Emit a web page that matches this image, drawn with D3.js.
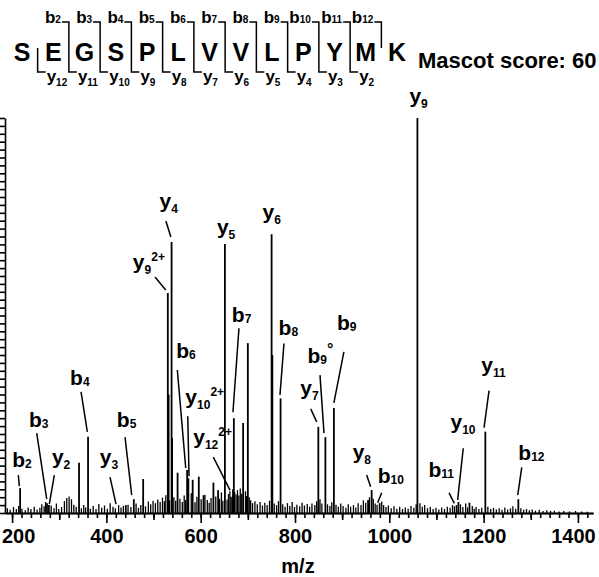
<!DOCTYPE html>
<html>
<head>
<meta charset="utf-8">
<script src="https://cdn.jsdelivr.net/npm/d3@7"></script>
<style>
  body { margin: 0; background: #fff; }
  text { font-family: "Liberation Sans", Arial, sans-serif; font-weight: bold; fill: #000; }
</style>
</head>
<body>
<svg></svg>
<script>

// ----- Data ----- //
var residues = ['S', 'E', 'G', 'S', 'P', 'L', 'V', 'V', 'L', 'P', 'Y', 'M', 'K'];
var scoreText = 'Mascot score: 60';
var xTicks = [200, 400, 600, 800, 1000, 1200, 1400];

// assigned fragment ions
var ionType   = ['b', 'b', 'y', 'b', 'y', 'b', 'y', 'y', 'b', 'y', 'y', 'y', 'b', 'y', 'b', 'y', 'b', 'b', 'y', 'b', 'y', 'b', 'y', 'y', 'b'];
var ionNum    = ['2', '3', '2', '4', '3', '5', '9', '4', '6', '10', '5', '12', '7', '6', '8', '7', '9', '9', '8', '10', '9', '11', '10', '11', '12'];
var ionSup    = ['', '', '', '', '', '', '2+', '', '', '2+', '', '2+', '', '', '', '', '°', '', '', '', '', '', '', '', ''];
var ionMz     = [217.08, 274.10, 278.15, 361.13, 441.22, 458.19, 530.32, 538.27, 571.27, 573.83, 651.36, 666.86, 670.34,
                 750.42, 769.41, 849.49, 864.48, 882.49, 962.58, 979.55, 1059.63, 1142.61, 1146.66, 1203.68, 1273.65];
var ionInt    = [6.3, 2.5, 2.0, 19.3, 2.0, 3.5, 55.7, 68.6, 10.9, 8.8, 68.1, 4.0, 24.0,
                 70.6, 29.0, 21.8, 19.2, 26.6, 5.8, 2.5, 100, 2.0, 2.8, 20.6, 3.5];

// unassigned peaks
var otherMz  = [342, 478, 532, 539.3, 551, 583, 596, 606, 627, 637, 690, 700, 752, 955, 1170];
var otherInt = [12.7, 8.6, 30, 19, 10.2, 8.4, 9.2, 4.5, 7.7, 5.8, 22.8, 43, 40, 3.3, 2.6];

// baseline noise [m/z, %]
var noisePeaks = [
  [190, 1.2], [196, 0.8], [203, 1.5], [209, 1.0], [214, 1.8], [221, 1.1], [228, 0.7], [234, 1.4], [240, 1.0], [247, 1.6],
  [253, 0.9], [259, 1.3], [263, 2.2], [268, 1.7], [271, 2.8], [283, 1.9], [289, 1.2], [294, 2.4], [299, 1.0], [305, 1.5],
  [311, 3.0], [316, 3.8], [321, 4.2], [326, 3.5], [331, 2.1], [336, 1.6], [347, 1.2], [352, 2.0], [356, 1.4], [366, 1.1],
  [372, 1.8], [378, 1.0], [384, 2.3], [390, 1.3], [396, 1.9], [402, 1.1], [408, 2.5], [414, 1.6], [419, 1.2], [426, 2.0],
  [431, 1.4], [436, 1.8], [446, 2.1], [452, 1.5], [463, 2.4], [468, 1.3], [473, 2.0], [483, 1.7], [489, 2.9], [494, 2.2],
  [499, 3.1], [504, 2.5], [509, 3.4], [514, 2.8], [519, 3.9], [523, 3.0], [526, 4.5], [534, 3.2], [543, 4.0], [547, 3.1],
  [556, 3.6], [561, 2.8], [565, 4.4], [568, 3.3], [580, 5.0], [588, 2.7], [592, 4.1], [601, 3.5], [609, 4.6], [614, 3.3],
  [618, 2.6], [622, 3.8], [632, 4.2], [640, 3.6], [644, 5.2], [647, 3.1], [656, 3.4], [659, 4.8], [662, 5.5], [664, 4.1],
  [668, 6.0], [672, 5.3], [675, 4.7], [678, 5.8], [681, 4.4], [684, 6.2], [687, 4.9], [695, 5.5], [697, 4.3], [703, 4.0],
  [706, 3.2], [710, 2.5], [715, 3.0], [720, 2.2], [726, 2.8], [731, 1.9], [736, 2.6], [741, 2.0], [746, 3.1], [756, 2.4],
  [761, 2.0], [765, 3.0], [774, 2.2], [779, 1.6], [784, 2.5], [789, 1.8], [794, 2.8], [799, 1.5], [804, 2.1], [810, 1.7],
  [815, 2.6], [820, 1.9], [826, 2.3], [831, 1.6], [836, 2.4], [842, 2.0], [846, 3.0], [853, 3.5], [857, 2.4], [869, 2.2],
  [874, 1.8], [878, 2.7], [887, 2.1], [892, 1.6], [897, 2.4], [902, 1.8], [908, 1.3], [913, 2.2], [918, 1.6], [924, 2.0],
  [929, 1.4], [934, 2.5], [940, 2.0], [945, 3.2], [950, 2.6], [958, 4.0], [966, 3.6], [970, 2.4], [974, 2.1], [984, 2.9],
  [988, 2.0], [993, 1.5], [998, 1.9], [1004, 1.2], [1010, 1.7], [1016, 1.1], [1022, 1.6], [1028, 1.0], [1034, 1.4], [1040, 1.1],
  [1046, 1.8], [1052, 1.3], [1057, 2.2], [1065, 2.5], [1070, 1.6], [1075, 2.0], [1081, 1.2], [1087, 1.5], [1093, 1.0], [1099, 1.3],
  [1105, 0.9], [1111, 1.4], [1117, 1.0], [1123, 1.6], [1129, 1.3], [1134, 2.0], [1138, 1.7], [1151, 2.2], [1156, 1.5], [1162, 2.4],
  [1166, 1.4], [1176, 1.8], [1180, 1.1], [1184, 1.5], [1190, 1.0], [1196, 1.3], [1209, 1.6], [1215, 1.0], [1221, 1.3], [1227, 0.9],
  [1233, 1.2], [1239, 0.8], [1245, 1.4], [1251, 0.9], [1257, 1.2], [1262, 1.7], [1268, 1.1], [1279, 1.2], [1285, 0.8], [1291, 1.0],
  [1297, 0.7], [1303, 0.9], [1310, 0.6], [1318, 0.8], [1326, 0.5], [1334, 0.7], [1342, 0.5], [1350, 0.6], [1360, 0.4], [1370, 0.5],
  [1382, 0.4], [1395, 0.5], [1408, 0.4], [1420, 0.3]
];

// ----- Layout ----- //
var svgWidth = 599;
var svgHeight = 577;
var plot = {left: 5, right: 593, top: 118, bottom: 513};

// label placement relative to the peak top: text origin (dx, dy) and leader [x1, y1, x2, y2]
var labelLayout = {
  'b2':   {dx: -8,  dy: -21,  lead: [-1.8, -13, -0.8, -2]},
  'b3':   {dx: -18, dy: -76,  lead: [-10.3, -70, -0.3, -4]},
  'y2':   {dx: 3,   dy: -41,  lead: [5.4, -30, 0.4, -1]},
  'b4':   {dx: -18, dy: -52,  lead: [-7, -45, -0.7, -5]},
  'y3':   {dx: -26, dy: -41,  lead: [-15.8, -28, -9.8, -1]},
  'b5':   {dx: -17, dy: -72,  lead: [-8.8, -62, -2.1, -4]},
  'y9°2+':{dx: -35, dy: -24,  lead: [-12.8, -16, -2.1, -3]},
  'y4':   {dx: -12, dy: -34,  lead: [-5.7, -21, -0.7, -5]},
  'b6':   {dx: -11, dy: -112, lead: [-9.8, -100, -1.4, -2]},
  'y10°2+':{dx: -3, dy: -74,  lead: [-0.6, -62, 0.7, -2]},
  'y5':   {dx: -8,  dy: -10,  lead: null},
  'y12°2+':{dx: -39, dy: -53, lead: [-18.9, -40, -2.2, -7]},
  'b7':   {dx: -2,  dy: -96,  lead: [5.1, -90, -0.9, -6]},
  'y6':   {dx: -9,  dy: -15,  lead: null},
  'b8':   {dx: -2,  dy: -63,  lead: [3.4, -55, -0.6, -3.5]},
  'y7':   {dx: -18, dy: -32,  lead: [-7.6, -18, -1.6, -5]},
  'b9°°': {dx: -18, dy: -74,  lead: [-5.4, -62, -1.4, -4]},
  'b9':   {dx: 3,   dy: -78,  lead: [10, -56, 0, -5]},
  'y8':   {dx: -19, dy: -31,  lead: [-5, -15, -1, -3.3]},
  'b10':  {dx: -2,  dy: -20,  lead: [2, -10.3, -2, -0.3]},
  'y9':   {dx: -8,  dy: -15,  lead: null},
  'b11':  {dx: -28, dy: -28,  lead: [-7.5, -12.3, -2.2, -1.7]},
  'y10':  {dx: -8,  dy: -73,  lead: [4.8, -53.7, -0.8, -2]},
  'y11':  {dx: -4,  dy: -60,  lead: [3.7, -41, -1.3, -4]},
  'b12':  {dx: 0,   dy: -39,  lead: [3.4, -31.7, -0.6, -4]}
};

// ----- SVG settings ----- //
var svg = d3.select('svg')
  .attr('width', svgWidth)
  .attr('height', svgHeight);

var scale = {};
scale.x = d3.scaleLinear().domain([185, 1432]).range([plot.left, plot.right]);
scale.y = d3.scaleLinear().domain([0, 100]).range([plot.bottom, plot.top]);

drawSequence();
drawAxis();
drawPeaks();
drawLabels();

// ==================== Helper functions ==================== //

function drawSequence() {
  var seq = d3.scalePoint().domain(d3.range(residues.length)).range([22, 397]);
  var topY = 22, botY = 72, midY = 48;
  var g = svg.append('g').attr('class', 'sequence');

  g.selectAll('text.res')
    .data(residues)
    .enter()
    .append('text')
    .attr('class', 'res')
    .attr('x', function(d, i) { return seq(i); })
    .attr('y', 61)
    .attr('text-anchor', 'middle')
    .style('font-size', '25px')
    .text(function(d) { return d; });

  var n = residues.length;
  for (var k = 1; k < n; k++) {
    var cx = (seq(k - 1) + seq(k)) / 2;
    var hasB = k >= 2;
    var hasY = k <= n - 2;
    var y1 = hasB ? topY : midY;
    var y2 = hasY ? botY : midY;
    var path = 'M' + cx + ',' + y1 + 'L' + cx + ',' + y2;
    if (hasB) path = 'M' + (cx - 7) + ',' + topY + 'L' + cx + ',' + topY + 'L' + cx + ',' + y2;
    if (hasY) path += 'L' + (cx + 8) + ',' + botY;
    g.append('path')
      .attr('d', path)
      .attr('fill', 'none')
      .attr('stroke', '#000')
      .attr('stroke-width', 1.5);

    if (hasB) {
      var tb = g.append('text')
        .attr('x', cx - 8)
        .attr('y', topY + 1)
        .attr('text-anchor', 'end')
        .style('font-size', '17px');
      tb.append('tspan').text('b');
      tb.append('tspan').style('font-size', '10px').text(k);
    }
    if (hasY) {
      var ty = g.append('text')
        .attr('x', cx + 9)
        .attr('y', botY + 10)
        .style('font-size', '17px');
      ty.append('tspan').text('y');
      ty.append('tspan').attr('dy', 4).style('font-size', '10px').text(n - k);
    }
  }

  svg.append('text')
    .attr('x', 418)
    .attr('y', 68)
    .style('font-size', '22px')
    .text(scoreText);
}

function drawAxis() {
  var xMinor = d3.range(200, 1432, 20);
  var xMid = d3.range(300, 1432, 200);

  svg.append('g')
    .attr('class', 'x_minor')
    .attr('transform', translate(0, plot.bottom))
    .call(d3.axisBottom(scale.x).tickValues(xMinor).tickSize(5).tickSizeOuter(0).tickFormat(''));

  svg.append('g')
    .attr('class', 'x_mid')
    .attr('transform', translate(0, plot.bottom))
    .call(d3.axisBottom(scale.x).tickValues(xMid).tickSize(7).tickSizeOuter(0).tickFormat(''));

  var xMajor = svg.append('g')
    .attr('class', 'x_axis')
    .attr('transform', translate(0, plot.bottom))
    .call(d3.axisBottom(scale.x).tickValues(xTicks).tickSize(10).tickSizeOuter(0).tickPadding(6)
      .tickFormat(d3.format('d')));

  xMajor.selectAll('text')
    .style('font-size', '20px')
    .style('font-family', '"Liberation Sans", Arial, sans-serif')
    .style('font-weight', 'bold');
  xMajor.selectAll('.tick').filter(function(d) { return d === 200; }).select('text').attr('dx', 6);
  xMajor.selectAll('.tick').filter(function(d) { return d === 1400; }).select('text').attr('dx', -5);

  svg.append('g')
    .attr('class', 'y_axis')
    .attr('transform', translate(plot.left, 0))
    .call(d3.axisLeft(scale.y).tickValues(d3.range(0, 101, 2)).tickSize(6).tickSizeOuter(0).tickFormat(''));

  svg.selectAll('.domain, .tick line')
    .attr('stroke', '#000')
    .attr('stroke-width', 1.6);

  svg.append('text')
    .attr('x', 298)
    .attr('y', 573)
    .attr('text-anchor', 'middle')
    .style('font-size', '20px')
    .text('m/z');
}

function drawPeaks() {
  var g = svg.append('g').attr('class', 'peaks');

  g.selectAll('line.noise')
    .data(noisePeaks)
    .enter()
    .append('line')
    .attr('class', 'noise')
    .attr('x1', function(d) { return scale.x(d[0]); })
    .attr('x2', function(d) { return scale.x(d[0]); })
    .attr('y1', scale.y(0))
    .attr('y2', function(d) { return scale.y(d[1]); })
    .attr('stroke', '#000')
    .attr('stroke-width', 1.3);

  var others = otherMz.map(function(m, i) { return [m, otherInt[i]]; });
  var ions = ionMz.map(function(m, i) { return [m, ionInt[i]]; });

  g.selectAll('line.peak')
    .data(others.concat(ions))
    .enter()
    .append('line')
    .attr('class', 'peak')
    .attr('x1', function(d) { return scale.x(d[0]); })
    .attr('x2', function(d) { return scale.x(d[0]); })
    .attr('y1', scale.y(0))
    .attr('y2', function(d) { return scale.y(d[1]); })
    .attr('stroke', '#000')
    .attr('stroke-width', 1.8);
}

function drawLabels() {
  var g = svg.append('g').attr('class', 'labels');

  ionMz.forEach(function(m, i) {
    var key = ionType[i] + ionNum[i] + (ionSup[i] ? '°' + ionSup[i] : '');
    var lay = labelLayout[key];
    if (!lay) return;
    var px = scale.x(m);
    var py = scale.y(ionInt[i]);
    var subShift = ionType[i] === 'y' ? 5 : 1;

    var t = g.append('text')
      .attr('x', px + lay.dx)
      .attr('y', py + lay.dy)
      .style('font-size', '21px');
    t.append('tspan').text(ionType[i]);
    t.append('tspan').attr('dy', subShift).style('font-size', '12px').text(ionNum[i]);
    if (ionSup[i]) {
      t.append('tspan')
        .attr('dy', -subShift - 8)
        .style('font-size', ionSup[i] === '°' ? '16px' : '12px')
        .text(ionSup[i]);
    }

    if (lay.lead) {
      g.append('line')
        .attr('x1', px + lay.lead[0])
        .attr('y1', py + lay.lead[1])
        .attr('x2', px + lay.lead[2])
        .attr('y2', py + lay.lead[3])
        .attr('stroke', '#000')
        .attr('stroke-width', 1.5);
    }
  });
}

function translate(x, y) {
  return 'translate(' + x + ',' + y + ')';
}

</script>
</body>
</html>
